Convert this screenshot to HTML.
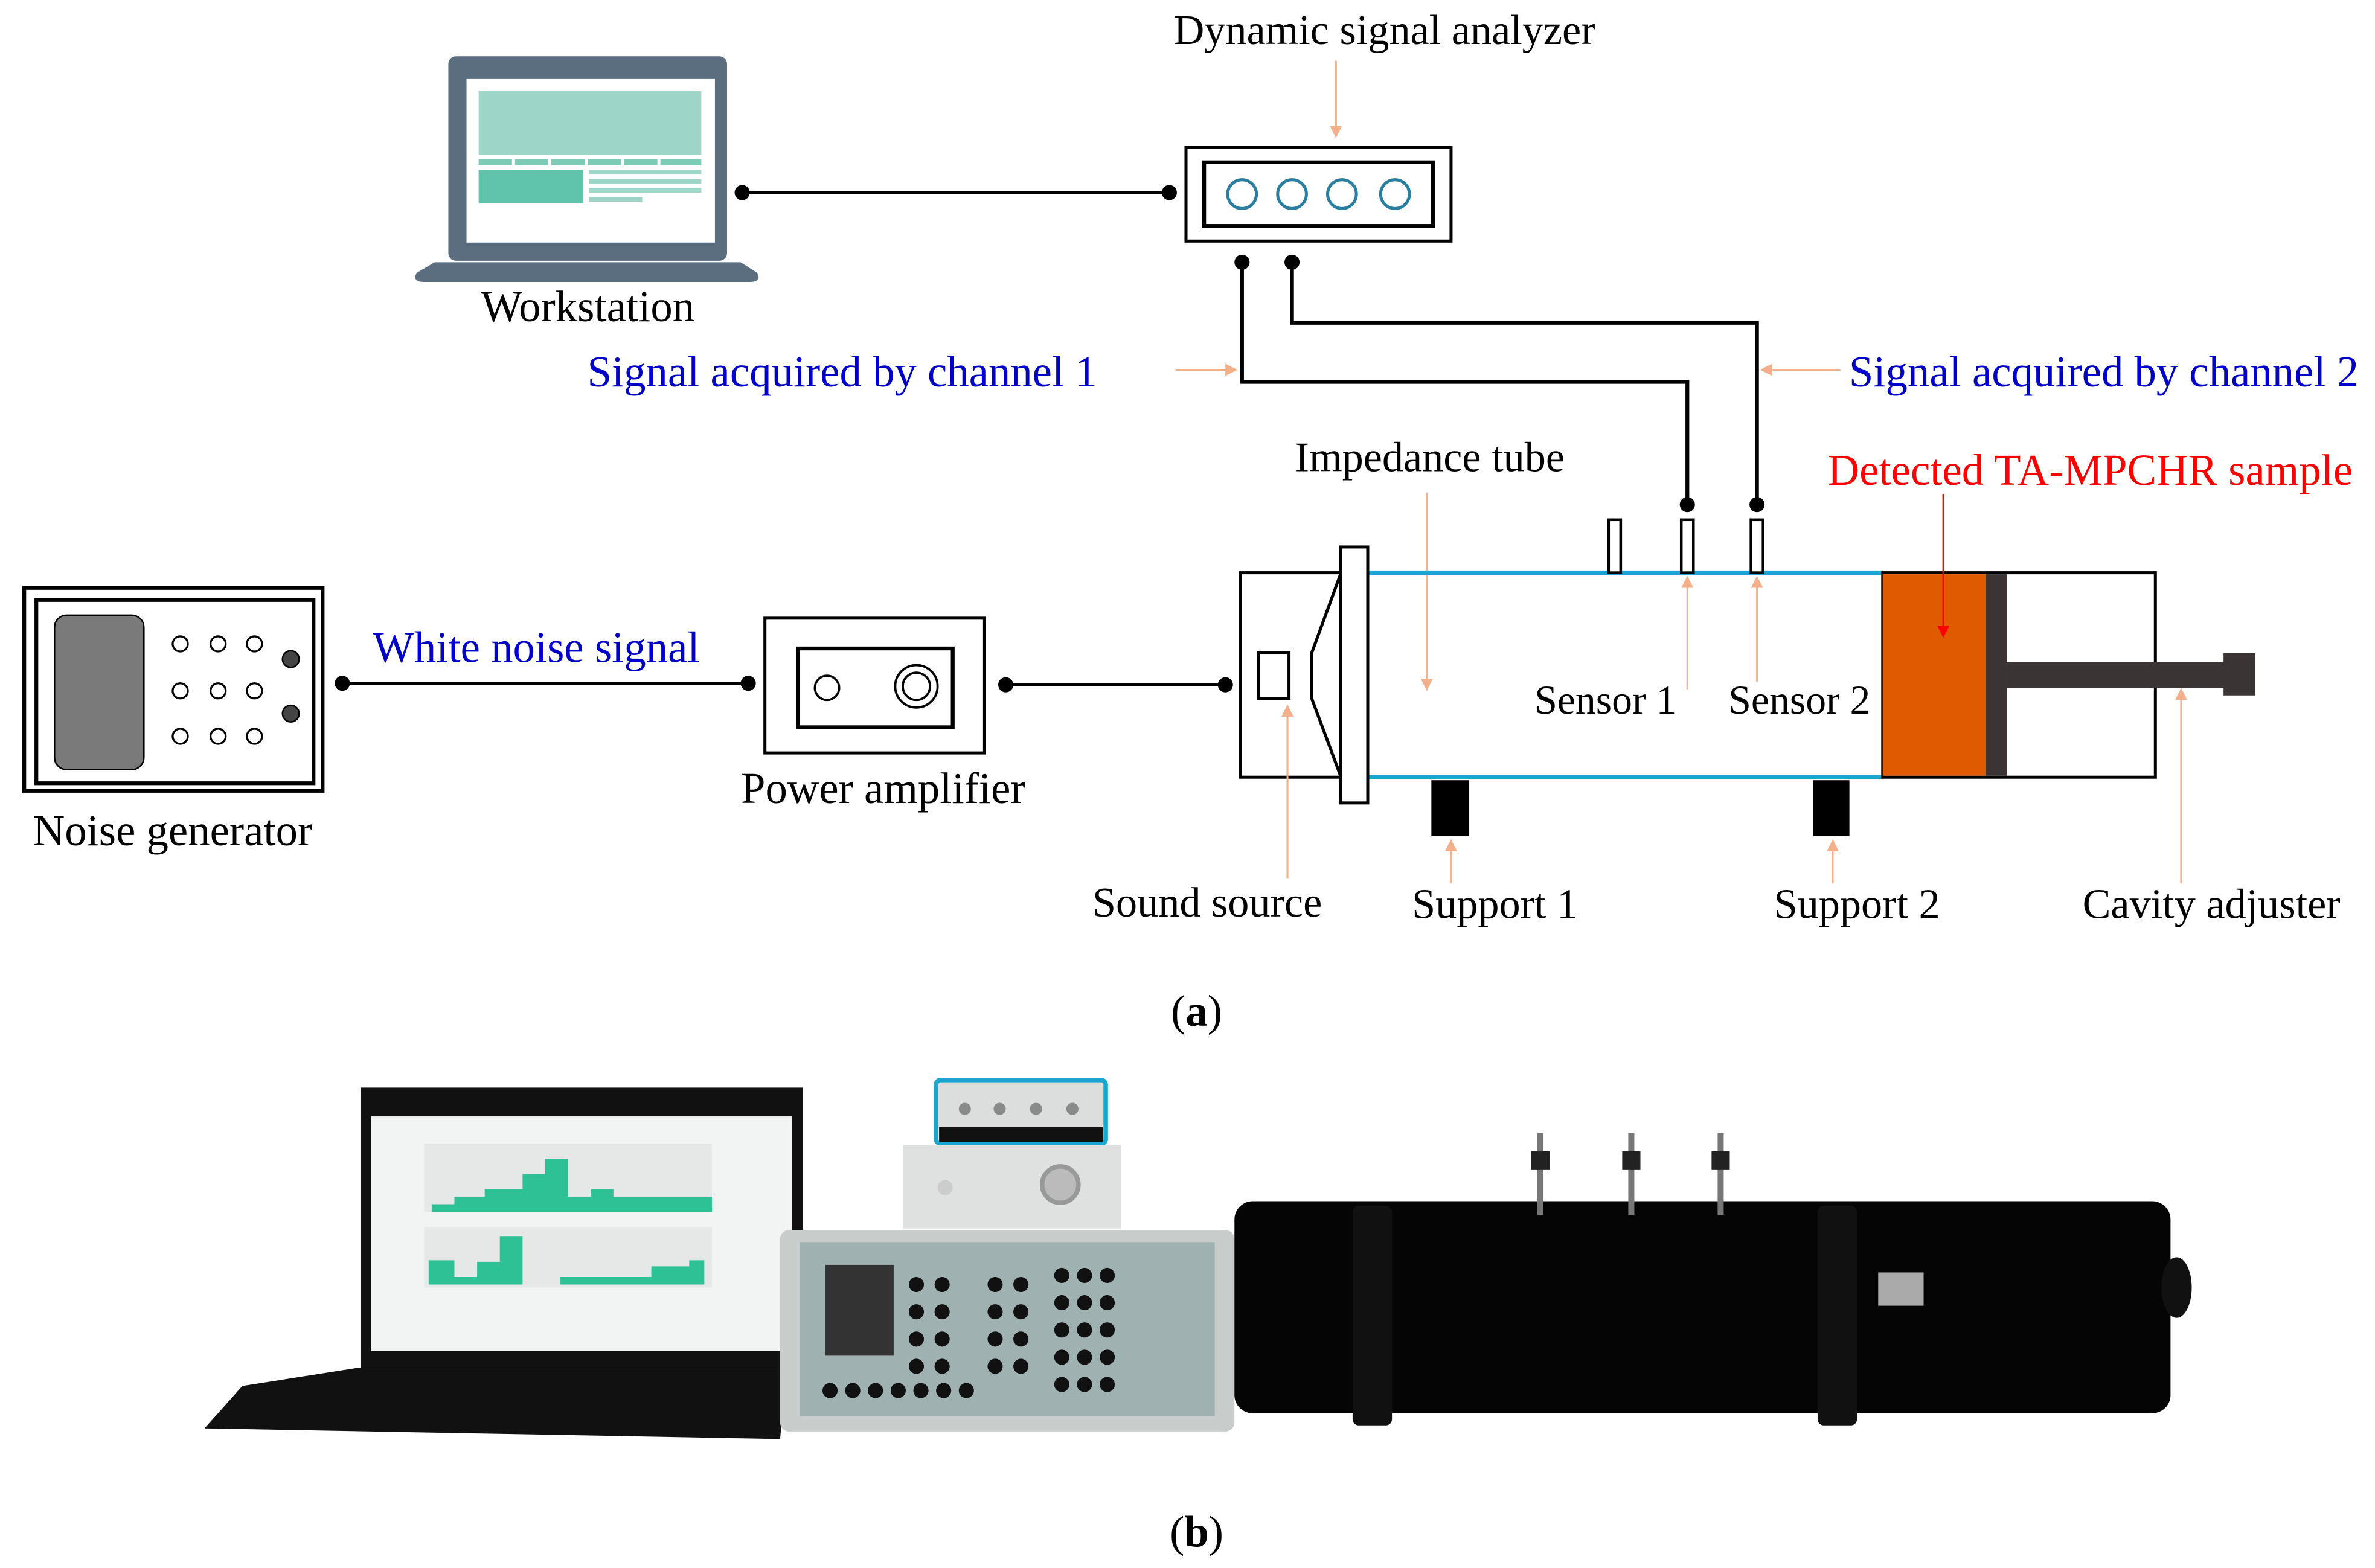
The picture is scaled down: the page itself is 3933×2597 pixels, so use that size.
<!DOCTYPE html>
<html><head><meta charset="utf-8"><style>
html,body{margin:0;padding:0;background:#fff;}
svg{display:block;}
text{font-family:"Liberation Serif",serif;}
</style></head><body>
<svg width="3933" height="2597" viewBox="0 0 1568 1035" xmlns="http://www.w3.org/2000/svg">
<defs>
<marker id="ao" markerWidth="8" markerHeight="8" refX="7" refY="4" orient="auto" markerUnits="userSpaceOnUse"><path d="M0,0 L8,4 L0,8 z" fill="#f4b08a"/></marker>
<marker id="ar" markerWidth="8" markerHeight="8" refX="7" refY="4" orient="auto" markerUnits="userSpaceOnUse"><path d="M0,0 L8,4 L0,8 z" fill="#ff0000"/></marker>
</defs>
<rect width="1568" height="1035" fill="#fff"/>

<!-- Workstation laptop -->
<rect x="296" y="37" width="184" height="135" rx="5" fill="#5a6e80"/>
<rect x="308" y="52" width="164" height="108" fill="#fff"/>
<rect x="316" y="60" width="147" height="42" fill="#9dd6c8"/>
<rect x="316" y="105" width="22" height="4" fill="#7ccbb6"/><rect x="340" y="105" width="22" height="4" fill="#7ccbb6"/><rect x="364" y="105" width="22" height="4" fill="#7ccbb6"/><rect x="388" y="105" width="22" height="4" fill="#7ccbb6"/><rect x="412" y="105" width="22" height="4" fill="#7ccbb6"/><rect x="436" y="105" width="27" height="4" fill="#7ccbb6"/>
<rect x="316" y="112" width="69" height="22" fill="#5fc4aa"/>
<rect x="389" y="112" width="74" height="3" fill="#9dd6c8"/><rect x="389" y="118" width="74" height="3" fill="#9dd6c8"/><rect x="389" y="124" width="74" height="3" fill="#9dd6c8"/><rect x="389" y="130" width="35" height="3" fill="#9dd6c8"/>
<path d="M287,173 L489,173 L500,180 Q503,186 495,186 L280,186 Q272,186 275,180 Z" fill="#5a6e80"/>
<text x="388" y="212" font-size="29" text-anchor="middle">Workstation</text>

<line x1="490" y1="127" x2="772" y2="127" stroke="#000" stroke-width="2"/>
<circle cx="490" cy="127" r="5"/><circle cx="772" cy="127" r="5"/>

<!-- Analyzer -->
<rect x="783" y="97" width="175" height="62" fill="#fff" stroke="#000" stroke-width="2"/>
<rect x="795" y="107" width="151" height="42" fill="#fff" stroke="#000" stroke-width="2.5"/>
<g fill="none" stroke="#2a7fa0" stroke-width="2"><circle cx="820" cy="128" r="9.5"/><circle cx="853" cy="128" r="9.5"/><circle cx="886" cy="128" r="9.5"/><circle cx="921" cy="128" r="9.5"/></g>
<text x="914" y="29" font-size="28" text-anchor="middle">Dynamic signal analyzer</text>
<line x1="882" y1="40" x2="882" y2="90" stroke="#f4b08a" stroke-width="1.2" marker-end="url(#ao)"/>

<polyline points="820,173 820,252 1114,252 1114,333" fill="none" stroke="#000" stroke-width="2.5"/>
<polyline points="853,173 853,213 1160,213 1160,333" fill="none" stroke="#000" stroke-width="2.5"/>
<circle cx="820" cy="173" r="5"/><circle cx="853" cy="173" r="5"/><circle cx="1114" cy="333" r="5"/><circle cx="1160" cy="333" r="5"/>
<text x="556" y="255" font-size="29" text-anchor="middle" fill="#0000c8">Signal acquired by channel 1</text>
<line x1="776" y1="244" x2="816" y2="244" stroke="#f4b08a" stroke-width="1.2" marker-end="url(#ao)"/>
<text x="1389" y="255" font-size="29" text-anchor="middle" fill="#0000c8">Signal acquired by channel 2</text>
<line x1="1215" y1="244" x2="1163" y2="244" stroke="#f4b08a" stroke-width="1.2" marker-end="url(#ao)"/>

<!-- Impedance tube -->
<text x="944" y="311" font-size="28" text-anchor="middle">Impedance tube</text>
<line x1="942" y1="325" x2="942" y2="455" stroke="#f4b08a" stroke-width="1.2" marker-end="url(#ao)"/>
<line x1="903" y1="378" x2="1243" y2="378" stroke="#1aa6d0" stroke-width="3"/>
<line x1="903" y1="513" x2="1243" y2="513" stroke="#1aa6d0" stroke-width="3"/>
<rect x="819" y="378" width="66" height="135" fill="#fff" stroke="#000" stroke-width="2"/>
<polyline points="885,379 866,431 866,461 885,512" fill="none" stroke="#000" stroke-width="2"/>
<rect x="831" y="431" width="20" height="30" fill="#fff" stroke="#000" stroke-width="2"/>
<rect x="885" y="361" width="18" height="169" fill="#fff" stroke="#000" stroke-width="2"/>
<rect x="1062" y="343" width="8" height="35" fill="#fff" stroke="#000" stroke-width="1.8"/>
<rect x="1110" y="343" width="8" height="35" fill="#fff" stroke="#000" stroke-width="1.8"/>
<rect x="1156" y="343" width="8" height="35" fill="#fff" stroke="#000" stroke-width="1.8"/>
<rect x="1243" y="378" width="180" height="135" fill="#fff" stroke="#000" stroke-width="2"/>
<rect x="1243" y="379" width="68" height="133" fill="#e05a00"/>
<rect x="1311" y="379" width="14" height="133" fill="#3a3534"/>
<rect x="1325" y="437" width="145" height="17" fill="#3a3534"/>
<rect x="1468" y="431" width="21" height="28" fill="#3a3534"/>
<text x="1380" y="320" font-size="29" text-anchor="middle" fill="#ff0000">Detected TA-MPCHR sample</text>
<line x1="1283" y1="326" x2="1283" y2="420" stroke="#ff0000" stroke-width="1.2" marker-end="url(#ar)"/>
<rect x="945" y="515" width="25" height="37" fill="#000"/>
<rect x="1197" y="515" width="24" height="37" fill="#000"/>
<text x="1060" y="471" font-size="27" text-anchor="middle">Sensor 1</text>
<text x="1188" y="471" font-size="27" text-anchor="middle">Sensor 2</text>
<line x1="1114" y1="455" x2="1114" y2="381" stroke="#f4b08a" stroke-width="1.2" marker-end="url(#ao)"/>
<line x1="1160" y1="450" x2="1160" y2="381" stroke="#f4b08a" stroke-width="1.2" marker-end="url(#ao)"/>
<text x="797" y="605" font-size="28" text-anchor="middle">Sound source</text>
<line x1="850" y1="580" x2="850" y2="466" stroke="#f4b08a" stroke-width="1.2" marker-end="url(#ao)"/>
<text x="987" y="606" font-size="28" text-anchor="middle">Support 1</text>
<line x1="958" y1="583" x2="958" y2="555" stroke="#f4b08a" stroke-width="1.2" marker-end="url(#ao)"/>
<text x="1226" y="606" font-size="28" text-anchor="middle">Support 2</text>
<line x1="1210" y1="583" x2="1210" y2="555" stroke="#f4b08a" stroke-width="1.2" marker-end="url(#ao)"/>
<text x="1460" y="606" font-size="28" text-anchor="middle">Cavity adjuster</text>
<line x1="1440" y1="583" x2="1440" y2="455" stroke="#f4b08a" stroke-width="1.2" marker-end="url(#ao)"/>

<!-- Noise generator -->
<rect x="16" y="388" width="197" height="134" fill="#fff" stroke="#000" stroke-width="2.5"/>
<rect x="24" y="396" width="183" height="121" fill="#fff" stroke="#000" stroke-width="2.5"/>
<rect x="36" y="406" width="59" height="102" rx="8" fill="#7a7a7a" stroke="#000" stroke-width="1"/>
<g fill="#fff" stroke="#000" stroke-width="1.3">
<circle cx="119" cy="425" r="5"/><circle cx="144" cy="425" r="5"/><circle cx="168" cy="425" r="5"/>
<circle cx="119" cy="456" r="5"/><circle cx="144" cy="456" r="5"/><circle cx="168" cy="456" r="5"/>
<circle cx="119" cy="486" r="5"/><circle cx="144" cy="486" r="5"/><circle cx="168" cy="486" r="5"/>
</g>
<circle cx="192" cy="435" r="5.5" fill="#444" stroke="#000"/><circle cx="192" cy="471" r="5.5" fill="#444" stroke="#000"/>
<text x="114" y="558" font-size="29" text-anchor="middle">Noise generator</text>
<line x1="226" y1="451" x2="494" y2="451" stroke="#000" stroke-width="2"/>
<circle cx="226" cy="451" r="5"/><circle cx="494" cy="451" r="5"/>
<text x="354" y="437" font-size="29" text-anchor="middle" fill="#0000c8">White noise signal</text>

<!-- Power amplifier -->
<rect x="505" y="408" width="145" height="89" fill="#fff" stroke="#000" stroke-width="2"/>
<rect x="527" y="428" width="102" height="52" fill="#fff" stroke="#000" stroke-width="2.5"/>
<circle cx="546" cy="454" r="8" fill="none" stroke="#000" stroke-width="1.5"/>
<circle cx="605" cy="453" r="14" fill="none" stroke="#000" stroke-width="1.5"/>
<circle cx="605" cy="453" r="9" fill="none" stroke="#000" stroke-width="1.5"/>
<text x="583" y="530" font-size="29" text-anchor="middle">Power amplifier</text>
<line x1="664" y1="452" x2="809" y2="452" stroke="#000" stroke-width="2"/>
<circle cx="664" cy="452" r="5"/><circle cx="809" cy="452" r="5"/>

<text x="790" y="677" font-size="29" text-anchor="middle">(<tspan font-weight="bold">a</tspan>)</text>

<!-- (b) photo approximation -->
<rect x="238" y="718" width="292" height="185" fill="#111"/>
<rect x="245" y="737" width="278" height="155" fill="#f2f4f3"/>
<rect x="280" y="755" width="190" height="45" fill="#e6e8e7"/>
<path d="M285,800 L285,795 L300,795 L300,790 L320,790 L320,785 L345,785 L345,775 L360,775 L360,765 L375,765 L375,790 L390,790 L390,785 L405,785 L405,790 L470,790 L470,800 Z" fill="#2ec196"/>
<rect x="280" y="810" width="190" height="40" fill="#e6e8e7"/>
<path d="M283,848 L283,832 L300,832 L300,843 L315,843 L315,833 L330,833 L330,816 L345,816 L345,848 Z M370,848 L370,843 L430,843 L430,836 L455,836 L455,832 L465,832 L465,848 Z" fill="#2ec196"/>
<path d="M236,903 L520,903 L515,950 L135,943 L160,915 Z" fill="#111"/>
<rect x="618" y="713" width="112" height="42" rx="3" fill="#dcdedd" stroke="#1aa6d0" stroke-width="3"/>
<rect x="620" y="744" width="108" height="10" fill="#111"/>
<g fill="#8a8a8a"><circle cx="637" cy="732" r="4"/><circle cx="660" cy="732" r="4"/><circle cx="684" cy="732" r="4"/><circle cx="708" cy="732" r="4"/></g>
<rect x="596" y="756" width="144" height="55" fill="#dfe1e1"/>
<circle cx="700" cy="782" r="12" fill="#bbb" stroke="#999" stroke-width="3"/>
<circle cx="624" cy="784" r="5" fill="#ccc"/>
<rect x="515" y="812" width="300" height="133" rx="6" fill="#c8cccb"/>
<rect x="528" y="820" width="274" height="115" fill="#9fb1b0"/>
<rect x="545" y="835" width="45" height="60" fill="#333"/>
<g fill="#111">
<circle cx="605" cy="848" r="5"/><circle cx="622" cy="848" r="5"/><circle cx="605" cy="866" r="5"/><circle cx="622" cy="866" r="5"/><circle cx="605" cy="884" r="5"/><circle cx="622" cy="884" r="5"/><circle cx="605" cy="902" r="5"/><circle cx="622" cy="902" r="5"/>
<circle cx="657" cy="848" r="5"/><circle cx="674" cy="848" r="5"/><circle cx="657" cy="866" r="5"/><circle cx="674" cy="866" r="5"/><circle cx="657" cy="884" r="5"/><circle cx="674" cy="884" r="5"/><circle cx="657" cy="902" r="5"/><circle cx="674" cy="902" r="5"/>
<circle cx="701" cy="842" r="5"/><circle cx="716" cy="842" r="5"/><circle cx="731" cy="842" r="5"/><circle cx="701" cy="860" r="5"/><circle cx="716" cy="860" r="5"/><circle cx="731" cy="860" r="5"/><circle cx="701" cy="878" r="5"/><circle cx="716" cy="878" r="5"/><circle cx="731" cy="878" r="5"/><circle cx="701" cy="896" r="5"/><circle cx="716" cy="896" r="5"/><circle cx="731" cy="896" r="5"/><circle cx="701" cy="914" r="5"/><circle cx="716" cy="914" r="5"/><circle cx="731" cy="914" r="5"/>
<circle cx="548" cy="918" r="5"/><circle cx="563" cy="918" r="5"/><circle cx="578" cy="918" r="5"/><circle cx="593" cy="918" r="5"/><circle cx="608" cy="918" r="5"/><circle cx="623" cy="918" r="5"/><circle cx="638" cy="918" r="5"/>
</g>
<rect x="815" y="793" width="618" height="140" rx="12" fill="#050505"/>
<rect x="893" y="796" width="26" height="145" rx="4" fill="#111"/>
<rect x="1200" y="796" width="26" height="145" rx="4" fill="#111"/>
<ellipse cx="1437" cy="850" rx="10" ry="20" fill="#111"/>
<rect x="1240" y="840" width="30" height="22" fill="#aaa"/>
<g fill="#777"><rect x="1015" y="748" width="4" height="54"/><rect x="1075" y="748" width="4" height="54"/><rect x="1134" y="748" width="4" height="54"/></g>
<g fill="#222"><rect x="1011" y="760" width="12" height="12"/><rect x="1071" y="760" width="12" height="12"/><rect x="1130" y="760" width="12" height="12"/></g>

<text x="790" y="1021" font-size="29" text-anchor="middle">(<tspan font-weight="bold">b</tspan>)</text>
</svg>
</body></html>
